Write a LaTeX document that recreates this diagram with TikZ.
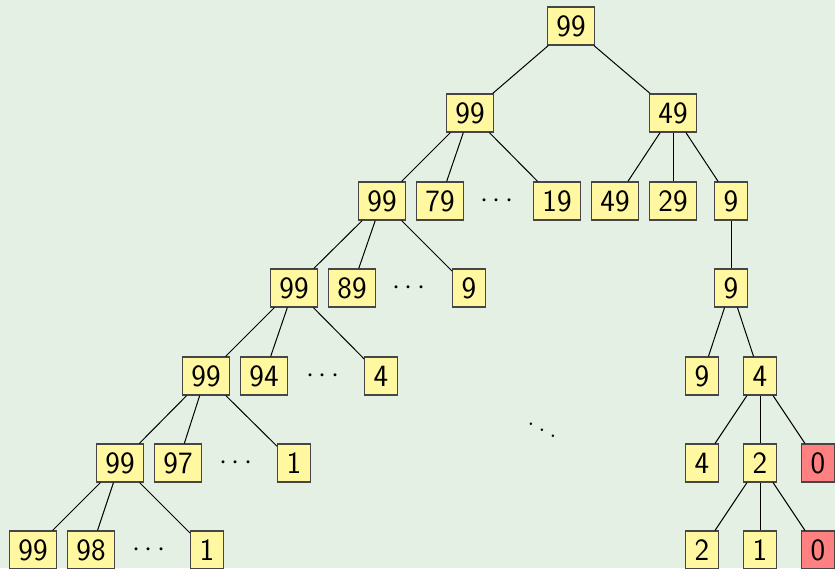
\documentclass[tikz,border=0pt]{standalone}
\definecolor{bgc}{RGB}{229,240,229}
\definecolor{boxfill}{RGB}{255,248,160}
\definecolor{redfill}{RGB}{255,128,128}
\definecolor{boxline}{RGB}{70,70,70}
\tikzset{
  box/.style={draw=boxline, fill=boxfill, line width=0.6pt, minimum height=19pt,
    inner xsep=4.5pt, inner ysep=0pt, font=\sffamily\fontsize{15.5}{18}\selectfont},
  redbox/.style={box, fill=redfill},
  dotsnode/.style={inner sep=0pt, font=\fontsize{15.5}{18}\selectfont},
  edge/.style={draw=black, line width=0.5pt}
}
\begin{document}
\begin{tikzpicture}[x=0.5pt, y=-0.5pt]
\useasboundingbox (0,0) rectangle (835,568);
\fill[bgc] (0,0) rectangle (835,568);
% level 0
\node[box] (r) at (571,26) {99};
% level 1
\node[box] (a1) at (470,113) {99};
\node[box] (b1) at (673,113) {49};
% level 2
\node[box] (a2) at (382,201) {99};
\node[box] (a2b) at (440,201) {79};
\node[dotsnode] (a2d) at (497,201) {$\cdots$};
\node[box] (a2c) at (557,201) {19};
\node[box] (b2a) at (615,201) {49};
\node[box] (b2b) at (673,201) {29};
\node[box] (b2c) at (731,201) {9};
% level 3
\node[box] (a3) at (294,288) {99};
\node[box] (a3b) at (352,288) {89};
\node[dotsnode] (a3d) at (409,288) {$\cdots$};
\node[box] (a3c) at (469,288) {9};
\node[box] (c3) at (731,288) {9};
% level 4
\node[box] (a4) at (206,376) {99};
\node[box] (a4b) at (264,376) {94};
\node[dotsnode] (a4d) at (323,376) {$\cdots$};
\node[box] (a4c) at (381,376) {4};
\node[box] (c4a) at (702,376) {9};
\node[box] (c4b) at (760,376) {4};
% middle dots
\node[dotsnode] (mid) at (542,424) {$\ddots$};
% level 5
\node[box] (a5) at (120,463) {99};
\node[box] (a5b) at (178,463) {97};
\node[dotsnode] (a5d) at (236,463) {$\cdots$};
\node[box] (a5c) at (294,463) {1};
\node[box] (d5a) at (702,463) {4};
\node[box] (d5b) at (760,463) {2};
\node[redbox] (d5c) at (818,463) {0};
% level 6
\node[box] (a6) at (33,550) {99};
\node[box] (a6b) at (91,550) {98};
\node[dotsnode] (a6d) at (149,550) {$\cdots$};
\node[box] (a6c) at (207,550) {1};
\node[box] (e6a) at (702,550) {2};
\node[box] (e6b) at (760,550) {1};
\node[redbox] (e6c) at (818,550) {0};
% edges
\draw[edge] (r) -- (a1);
\draw[edge] (r) -- (b1);
\draw[edge] (a1) -- (a2);
\draw[edge] (a1) -- (a2b);
\draw[edge] (a1) -- (a2c);
\draw[edge] (b1) -- (b2a);
\draw[edge] (b1) -- (b2b);
\draw[edge] (b1) -- (b2c);
\draw[edge] (a2) -- (a3);
\draw[edge] (a2) -- (a3b);
\draw[edge] (a2) -- (a3c);
\draw[edge] (b2c) -- (c3);
\draw[edge] (a3) -- (a4);
\draw[edge] (a3) -- (a4b);
\draw[edge] (a3) -- (a4c);
\draw[edge] (c3) -- (c4a);
\draw[edge] (c3) -- (c4b);
\draw[edge] (a4) -- (a5);
\draw[edge] (a4) -- (a5b);
\draw[edge] (a4) -- (a5c);
\draw[edge] (c4b) -- (d5a);
\draw[edge] (c4b) -- (d5b);
\draw[edge] (c4b) -- (d5c);
\draw[edge] (a5) -- (a6);
\draw[edge] (a5) -- (a6b);
\draw[edge] (a5) -- (a6c);
\draw[edge] (d5b) -- (e6a);
\draw[edge] (d5b) -- (e6b);
\draw[edge] (d5b) -- (e6c);
\end{tikzpicture}
\end{document}
